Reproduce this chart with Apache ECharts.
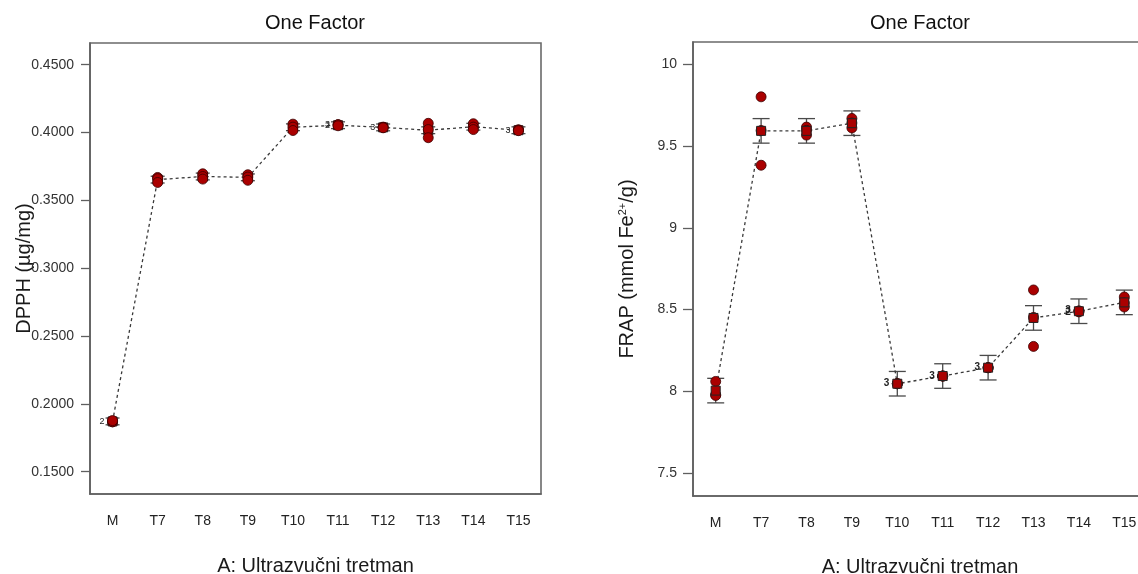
<!DOCTYPE html>
<html>
<head>
<meta charset="utf-8">
<script src="https://cdn.jsdelivr.net/npm/echarts@6/dist/echarts.min.js"></script>
<style>
html,body{margin:0;padding:0;background:#fff;overflow:hidden;}
#chart{width:1138px;height:574px;}
</style>
</head>
<body>
<div id="chart"></div>
<script>
// ---------- DATA ----------
const categories = ['M', 'T7', 'T8', 'T9', 'T10', 'T11', 'T12', 'T13', 'T14', 'T15'];

const dpphTicks = [0.15, 0.20, 0.25, 0.30, 0.35, 0.40, 0.45];
const dpphMeans = [0.1871, 0.3653, 0.3676, 0.3670, 0.4039, 0.4054, 0.4038, 0.4017, 0.4043, 0.4017];
const dpphReplicates = [
  [0.1868, 0.1868, 0.1877],
  [0.3669, 0.3660, 0.3632],
  [0.3696, 0.3676, 0.3657],
  [0.3689, 0.3672, 0.3648],
  [0.4062, 0.4040, 0.4015],
  [0.4058, 0.4058, 0.4050],
  [0.4040, 0.4038, 0.4035],
  [0.4068, 0.4022, 0.3962],
  [0.4065, 0.4040, 0.4022],
  [0.4020, 0.4018, 0.4014]
];
const dpphLsd = 0.0025;
const dpphCounts = [['M', 0.1871, '2'], ['T11', 0.4060, '3'], ['T11', 0.4049, '2'], ['T12', 0.4038, '3'], ['T15', 0.4015, '3']];

const frapTicks = [7.5, 8, 8.5, 9, 9.5, 10];
const frapMeans = [8.005, 9.592, 9.592, 9.639, 8.047, 8.094, 8.145, 8.449, 8.490, 8.544];
const frapReplicates = [
  [8.061, 7.980, 7.975],
  [9.800, 9.594, 9.382],
  [9.615, 9.595, 9.566],
  [9.668, 9.640, 9.610],
  [8.047, 8.047, 8.047],
  [8.094, 8.094, 8.094],
  [8.145, 8.145, 8.145],
  [8.620, 8.452, 8.275],
  [8.492, 8.490, 8.486],
  [8.577, 8.540, 8.516]
];
const frapLsd = 0.075;
const frapCounts = [['T10', 8.047, '3'], ['T11', 8.094, '3'], ['T12', 8.145, '3'], ['T14', 8.497, '3'], ['T14', 8.483, '2']];

// ---------- CHART ----------
const FONT = '"Liberation Sans", Arial, sans-serif';
const RED = '#aa0000';
const chart = echarts.init(document.getElementById('chart'), null, {renderer: 'canvas'});

function pointsData(reps) {
  const out = [];
  reps.forEach((arr, i) => arr.forEach(v => out.push([categories[i], v])));
  return out;
}
function barsData(means, lsd) {
  return means.map((m, i) => [i, m - lsd, m + lsd]);
}
function errorBarSeries(idx, means, lsd, capHalf) {
  return {
    type: 'custom', xAxisIndex: idx, yAxisIndex: idx, z: 2, silent: true,
    data: barsData(means, lsd),
    renderItem: function (params, api) {
      const x = api.value(0);
      const lo = api.coord([x, api.value(1)]);
      const hi = api.coord([x, api.value(2)]);
      const st = {stroke: '#4a4a4a', lineWidth: 1.3};
      return {type: 'group', children: [
        {type: 'line', shape: {x1: lo[0], y1: lo[1], x2: hi[0], y2: hi[1]}, style: st},
        {type: 'line', shape: {x1: lo[0] - capHalf, y1: lo[1], x2: lo[0] + capHalf, y2: lo[1]}, style: st},
        {type: 'line', shape: {x1: hi[0] - capHalf, y1: hi[1], x2: hi[0] + capHalf, y2: hi[1]}, style: st}
      ]};
    }
  };
}
function countLabelSeries(idx, counts, size, weight) {
  return {
    type: 'custom', xAxisIndex: idx, yAxisIndex: idx, z: 6, silent: true,
    data: counts.map(d => [categories.indexOf(d[0]), d[1], d[2]]),
    dimensions: ['x', 'y', {name: 't', type: 'ordinal'}],
    renderItem: function (params, api) {
      const p = api.coord([api.value(0), api.value(1)]);
      const d = counts[params.dataIndex];
      return {type: 'text', x: p[0] - 8, y: p[1], style: {
        text: d[2], align: 'right', verticalAlign: 'middle',
        font: weight + ' ' + size + 'px ' + FONT, fill: '#222'}};
    }
  };
}
function xAxisCfg(idx, gap) {
  return {
    type: 'category', gridIndex: idx, data: categories, boundaryGap: true,
    name: 'A: Ultrazvučni tretman', nameLocation: 'middle', nameGap: gap, nameMoveOverlap: false,
    nameTextStyle: {fontFamily: FONT, fontSize: 20, color: '#1a1a1a'},
    axisLine: {lineStyle: {color: '#5f5f5f', width: 1.6}},
    axisTick: {alignWithLabel: true, length: 10, lineStyle: {color: '#5f5f5f', width: 1.3}},
    axisLabel: {margin: 20, fontFamily: FONT, fontSize: 14, color: '#222'},
    splitLine: {show: false}
  };
}

const option = {
  backgroundColor: '#fff',
  animation: false,
  grid: [
    {left: 90, right: 597, top: 43, bottom: 80, show: true, borderColor: '#6a6a6a', borderWidth: 1.6,
     outerBoundsMode: 'none', containLabel: false},
    {left: 693, width: 454, top: 42, bottom: 78, show: true, borderColor: '#6a6a6a', borderWidth: 1.6,
     outerBoundsMode: 'none', containLabel: false}
  ],
  graphic: [
    {type: 'text', x: 315, y: 23, style: {text: 'One Factor', align: 'center', verticalAlign: 'middle', font: '20px ' + FONT, fill: '#111'}},
    {type: 'text', x: 920, y: 23, style: {text: 'One Factor', align: 'center', verticalAlign: 'middle', font: '20px ' + FONT, fill: '#111'}}
  ],
  xAxis: [xAxisCfg(0, 62), xAxisCfg(1, 61)],
  yAxis: [
    {
      type: 'value', gridIndex: 0, min: 0.1336, max: 0.466,
      name: 'DPPH (µg/mg)', nameLocation: 'middle', nameGap: 56, nameMoveOverlap: false,
      nameTextStyle: {fontFamily: FONT, fontSize: 20, color: '#1a1a1a'},
      axisLine: {show: true, lineStyle: {color: '#5f5f5f', width: 1.6}},
      axisTick: {show: true, length: 9, customValues: dpphTicks, lineStyle: {color: '#5f5f5f', width: 1.3}},
      axisLabel: {customValues: dpphTicks, margin: 16, fontFamily: FONT, fontSize: 14, color: '#333',
        formatter: v => Number(v).toFixed(4)},
      splitLine: {show: false}
    },
    {
      type: 'value', gridIndex: 1, min: 7.361, max: 10.135,
      name: 'FRAP (mmol Fe{sup|2+}/g)', nameLocation: 'middle', nameGap: 55, nameMoveOverlap: false,
      nameTextStyle: {fontFamily: FONT, fontSize: 20, color: '#1a1a1a',
        rich: {sup: {fontFamily: FONT, fontSize: 11, color: '#1a1a1a', padding: [0, 0, 10, 0]}}},
      axisLine: {show: true, lineStyle: {color: '#5f5f5f', width: 1.6}},
      axisTick: {show: true, length: 10, customValues: frapTicks, lineStyle: {color: '#5f5f5f', width: 1.3}},
      axisLabel: {customValues: frapTicks, margin: 16, fontFamily: FONT, fontSize: 14, color: '#333'},
      splitLine: {show: false}
    }
  ],
  series: [
    // ----- DPPH -----
    errorBarSeries(0, dpphMeans, dpphLsd, 7),
    {
      type: 'line', xAxisIndex: 0, yAxisIndex: 0, z: 3, silent: true,
      data: dpphMeans, symbol: 'none',
      lineStyle: {color: '#3a3a3a', width: 1.3, type: [3, 3]}
    },
    {
      type: 'scatter', xAxisIndex: 0, yAxisIndex: 0, z: 4, silent: true,
      data: dpphMeans.map((m, i) => [categories[i], m]), symbol: 'rect', symbolSize: 9,
      itemStyle: {color: RED, borderColor: '#222', borderWidth: 1, opacity: 1}
    },
    {
      type: 'scatter', xAxisIndex: 0, yAxisIndex: 0, z: 5, silent: true,
      data: pointsData(dpphReplicates), symbol: 'circle', symbolSize: 10,
      itemStyle: {color: RED, borderColor: '#3a0000', borderWidth: 0.8, opacity: 1}
    },
    countLabelSeries(0, dpphCounts, 9, 'normal'),
    // ----- FRAP -----
    errorBarSeries(1, frapMeans, frapLsd, 8.5),
    {
      type: 'line', xAxisIndex: 1, yAxisIndex: 1, z: 3, silent: true,
      data: frapMeans, symbol: 'none',
      lineStyle: {color: '#3a3a3a', width: 1.3, type: [3, 3]}
    },
    {
      type: 'scatter', xAxisIndex: 1, yAxisIndex: 1, z: 4, silent: true,
      data: pointsData(frapReplicates), symbol: 'circle', symbolSize: 10,
      itemStyle: {color: RED, borderColor: '#3a0000', borderWidth: 0.8, opacity: 1}
    },
    {
      type: 'scatter', xAxisIndex: 1, yAxisIndex: 1, z: 5, silent: true,
      data: frapMeans.map((m, i) => [categories[i], m]), symbol: 'rect', symbolSize: 9,
      itemStyle: {color: RED, borderColor: '#222', borderWidth: 1, opacity: 1}
    },
    countLabelSeries(1, frapCounts, 10, 'bold')
  ]
};
chart.setOption(option);
</script>
</body>
</html>
